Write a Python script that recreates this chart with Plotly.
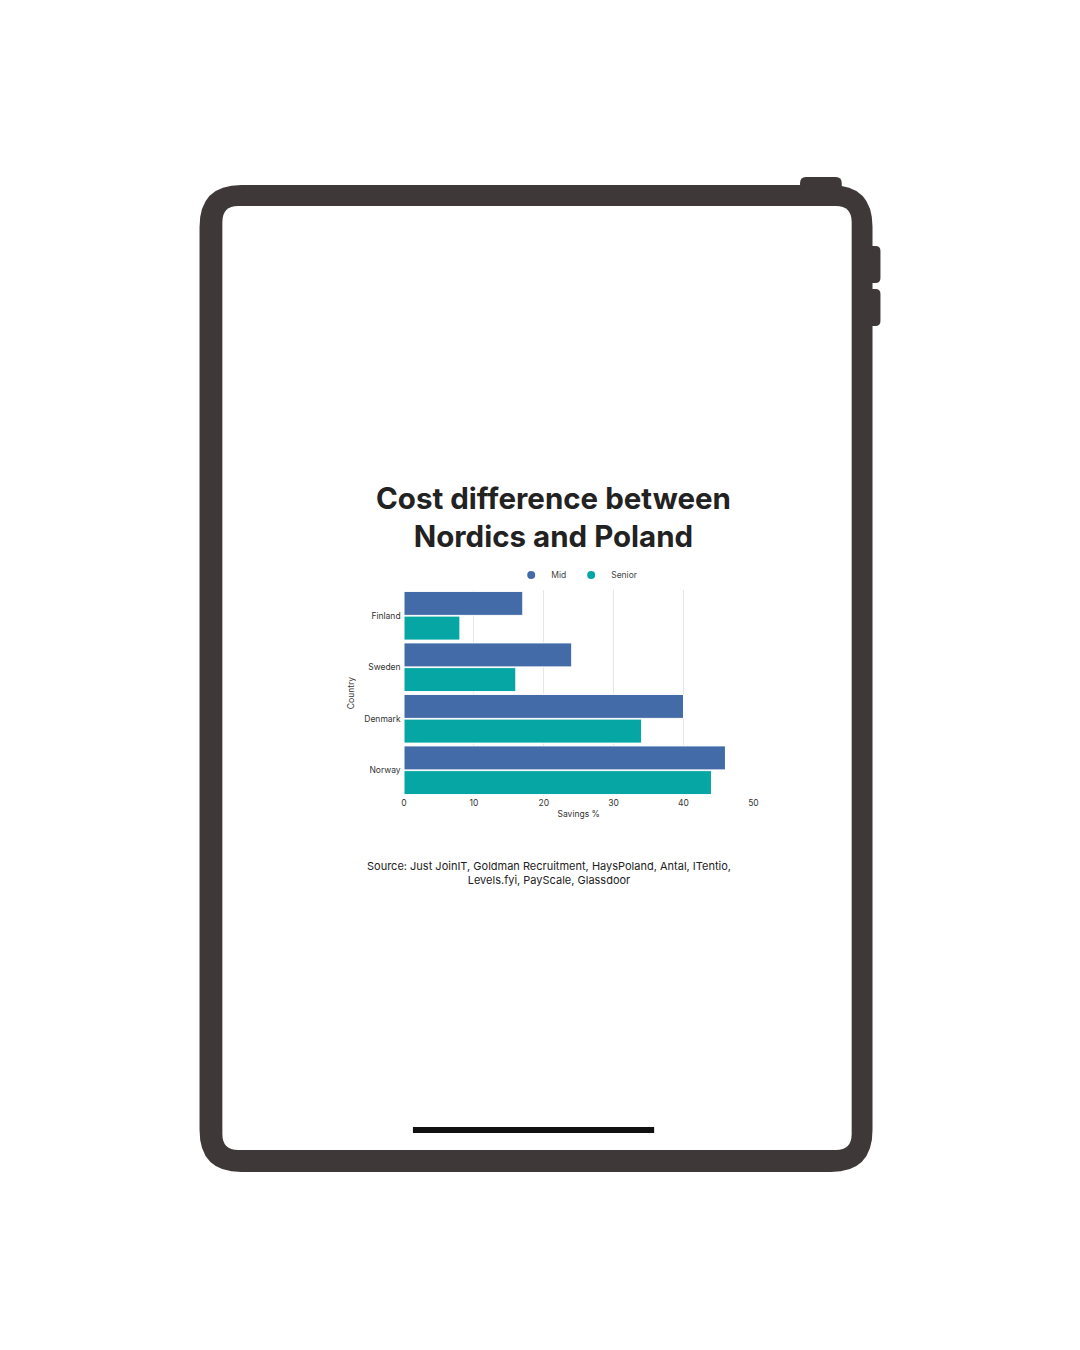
import plotly.graph_objects as go

countries = ["Finland", "Sweden", "Denmark", "Norway"]
mid = [17, 24, 40, 46]
senior = [8, 16, 34, 44]

W, H = 1080, 1350
FRAME = "#3f3839"
MID_C = "#436ba8"
SEN_C = "#06a6a5"
FONT = "Inter, Roboto, sans-serif"


def px(x):
    return x / W


def py(y):
    return 1 - y / H


def rrect(x0, y0, x1, y1, r):
    # rounded rect path in paper coords, input in pixels (top-left origin)
    pts = [
        f"M {px(x0 + r)} {py(y0)}",
        f"L {px(x1 - r)} {py(y0)}",
        f"Q {px(x1)} {py(y0)} {px(x1)} {py(y0 + r)}",
        f"L {px(x1)} {py(y1 - r)}",
        f"Q {px(x1)} {py(y1)} {px(x1 - r)} {py(y1)}",
        f"L {px(x0 + r)} {py(y1)}",
        f"Q {px(x0)} {py(y1)} {px(x0)} {py(y1 - r)}",
        f"L {px(x0)} {py(y0 + r)}",
        f"Q {px(x0)} {py(y0)} {px(x0 + r)} {py(y0)}",
        "Z",
    ]
    return " ".join(pts)


def shape(path, color):
    return dict(type="path", xref="paper", yref="paper", path=path,
                fillcolor=color, line=dict(width=0), layer="below")


fig = go.Figure()
fig.add_bar(y=countries, x=mid, name="Mid", orientation="h", showlegend=False,
            marker=dict(color=MID_C, line=dict(color="white", width=1)))
fig.add_bar(y=countries, x=senior, name="Senior", orientation="h", showlegend=False,
            marker=dict(color=SEN_C, line=dict(color="white", width=1)))
# legend entries with round markers
for name, col in [("Mid", MID_C), ("Senior", SEN_C)]:
    fig.add_scatter(x=[None], y=[None], mode="markers", name=name,
                    marker=dict(color=col, size=8, symbol="circle"))

shapes = [
    shape(rrect(803, 177, 845, 195, 6), FRAME),
    shape(rrect(866, 246, 884, 283, 5), FRAME),
    shape(rrect(866, 289, 884, 326, 5), FRAME),
    shape(rrect(198, 185, 876, 1172, 42), FRAME),
    shape(rrect(221, 206, 855, 1150, 16), "white"),
    dict(type="line", xref="paper", yref="paper", x0=px(413), x1=px(656),
         y0=py(1130), y1=py(1130), line=dict(color="#111111", width=6), layer="above"),
]

fig.update_layout(
    width=W, height=H, margin=dict(l=0, r=0, t=0, b=0),
    paper_bgcolor="white", plot_bgcolor="white",
    font=dict(family=FONT, color="#333333", size=8.5),
    barmode="group", bargap=0.04, bargroupgap=0.03,
    showlegend=True,
    legend=dict(orientation="h", x=px(578), xanchor="center", y=py(575), yanchor="middle",
                font=dict(size=8.5, color="#444444"), itemwidth=30, tracegroupgap=0),
    shapes=shapes,
    annotations=[
        dict(text="<b>Cost difference between<br>Nordics and Poland</b>", x=px(555), y=py(517),
             xref="paper", yref="paper", showarrow=False, yanchor="middle",
             font=dict(size=29.5, color="#222222", family=FONT), align="center"),
        dict(text="Source: Just JoinIT, Goldman Recruitment, HaysPoland, Antal, ITentio,<br>Levels.fyi, PayScale, Glassdoor",
             x=px(550), y=py(873), xref="paper", yref="paper", showarrow=False, yanchor="middle",
             font=dict(size=11, color="#222222", family=FONT), align="center"),
    ],
    xaxis=dict(domain=[px(404), px(756)], range=[0, 50], dtick=10, showgrid=True,
               gridcolor="#e6e6e6", zeroline=False, showline=False,
               title=dict(text="Savings %", standoff=4, font=dict(size=8.5)),
               tickfont=dict(size=8.5)),
    yaxis=dict(domain=[py(796), py(590)], autorange="reversed", showgrid=False,
               title=dict(text="Country", standoff=8, font=dict(size=8.5)),
               tickfont=dict(size=8.5), ticksuffix=" "),
)

fig.write_html("out.html", config={"displayModeBar": False},
               post_script="document.body.style.margin='0';")
